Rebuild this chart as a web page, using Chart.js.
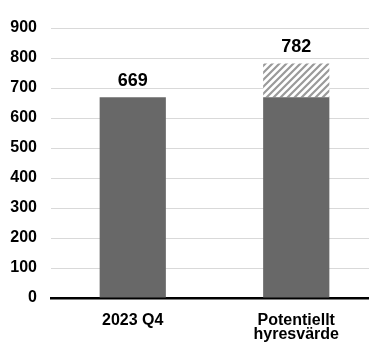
<!DOCTYPE html>
<html>
<head>
<meta charset="utf-8">
<script src="https://cdn.jsdelivr.net/npm/chart.js@4"></script>
<style>
  html, body { margin: 0; padding: 0; background: #fff; overflow: hidden; }
  #outer { width: 369px; height: 345px; overflow: hidden; }
  #wrap { width: 378px; height: 345px; }
</style>
</head>
<body>
<div id="outer"><div id="wrap"><canvas id="chart"></canvas></div></div>
<script>
// chart data
const categories = ["2023 Q4", ["Potentiellt", "hyresvärde"]];
const baseValues = [669, 669];
const increaseValues = [null, 113];
const yTicks = [0, 100, 200, 300, 400, 500, 600, 700, 800, 900];

const fontFamily = "'Liberation Sans', Arial, sans-serif";

// diagonal hatch for the potential increase
function makeHatch() {
  const c = document.createElement("canvas");
  c.width = 7;
  c.height = 7;
  const g = c.getContext("2d");
  g.fillStyle = "#fff";
  g.fillRect(0, 0, 7, 7);
  g.strokeStyle = "#9a9a9a";
  g.lineWidth = 2.2;
  g.beginPath();
  g.moveTo(-1, 8); g.lineTo(8, -1);
  g.moveTo(-4, 4); g.lineTo(4, -4);
  g.moveTo(3, 11); g.lineTo(11, 3);
  g.stroke();
  return g.createPattern(c, "repeat");
}

// totals above each bar
const totalLabels = {
  id: "totalLabels",
  afterDatasetsDraw(chart) {
    const ctx = chart.ctx;
    ctx.save();
    ctx.font = "bold 18px " + fontFamily;
    ctx.fillStyle = "#000";
    ctx.textAlign = "center";
    ctx.textBaseline = "alphabetic";
    categories.forEach((c, i) => {
      const total = (baseValues[i] || 0) + (increaseValues[i] || 0);
      const top = increaseValues[i] ? chart.getDatasetMeta(1).data[i] : chart.getDatasetMeta(0).data[i];
      ctx.fillText(total, top.x, top.y - 11);
    });
    ctx.restore();
  }
};

const chart = new Chart(document.getElementById("chart"), {
  type: "bar",
  data: {
    labels: categories,
    datasets: [
      { data: baseValues, backgroundColor: "#686868" },
      { data: increaseValues, backgroundColor: makeHatch() }
    ]
  },
  options: {
    responsive: true,
    maintainAspectRatio: false,
    animation: false,
    layout: { padding: { top: 28, left: -3.7, right: 0, bottom: -12 } },
    datasets: { bar: { categoryPercentage: 0.81, barPercentage: 0.5 } },
    plugins: { legend: { display: false }, tooltip: { enabled: false } },
    scales: {
      x: {
        stacked: true,
        grid: { display: false, drawTicks: false },
        border: { color: "#000", width: 2.5 },
        ticks: {
          color: "#000",
          font: { family: fontFamily, size: 16, weight: "bold", lineHeight: "14.5px" },
          padding: 15,
          maxRotation: 0
        }
      },
      y: {
        stacked: true,
        min: 0,
        max: 900,
        afterBuildTicks: axis => { axis.ticks = yTicks.map(v => ({ value: v })); },
        grid: { color: "#d9d9d9", drawTicks: false },
        border: { display: false },
        ticks: {
          color: "#000",
          font: { family: fontFamily, size: 16, weight: "bold" },
          padding: 14
        }
      }
    }
  },
  plugins: [totalLabels]
});
</script>
</body>
</html>
